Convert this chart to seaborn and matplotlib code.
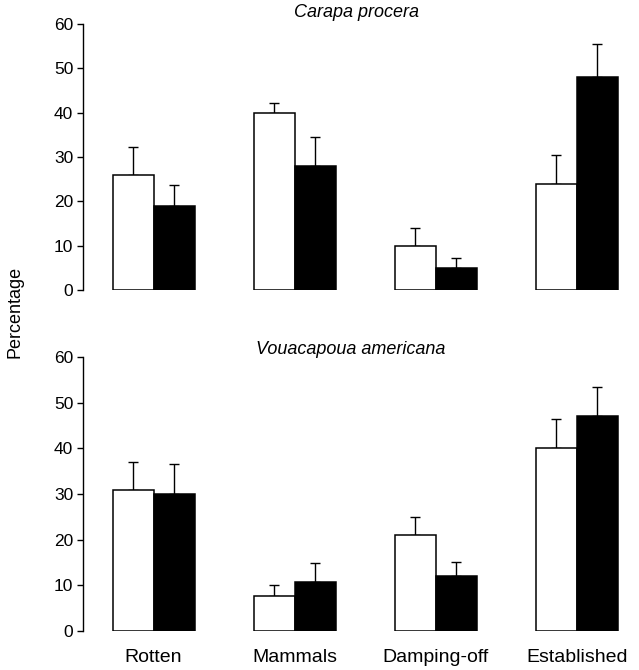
import numpy as np
import pandas as pd
from matplotlib import pyplot as plt
import seaborn as sns

sns.set_style('white')
plt.rcParams['font.family'] = ['Liberation Sans', 'DejaVu Sans']
plt.rcParams['text.color'] = 'black'
plt.rcParams['axes.labelcolor'] = 'black'

categories = ['Rotten', 'Mammals', 'Damping-off', 'Established']
groups = ['open', 'closed']

# Carapa procera
carapa_open = [26, 40, 10, 24]
carapa_open_err = [6.2, 2.1, 3.9, 6.5]
carapa_closed = [19, 28, 5, 48]
carapa_closed_err = [4.6, 6.5, 2.3, 7.5]

# Vouacapoua americana
vouac_open = [31, 7.7, 21, 40]
vouac_open_err = [6.1, 2.4, 4.0, 6.4]
vouac_closed = [30, 10.7, 12, 47]
vouac_closed_err = [6.5, 4.2, 3.1, 6.5]


def make_df(a, b):
    return pd.DataFrame({
        'cat': categories * 2,
        'grp': [groups[0]] * 4 + [groups[1]] * 4,
        'val': list(a) + list(b),
    })


fig = plt.figure(figsize=(6.39, 6.70), dpi=100)
ax1 = fig.add_axes([0.13, 0.567, 0.872, 0.397])
ax2 = fig.add_axes([0.13, 0.058, 0.872, 0.409])

panels = [
    (ax1, carapa_open, carapa_closed, carapa_open_err, carapa_closed_err,
     'Carapa procera', 0.49, 1.043),
    (ax2, vouac_open, vouac_closed, vouac_open_err, vouac_closed_err,
     'Vouacapoua americana', 0.48, 1.027),
]

for ax, a, b, ea, eb, title, tx, ty in panels:
    df = make_df(a, b)
    sns.barplot(data=df, x='cat', y='val', hue='grp', order=categories,
                hue_order=groups, palette={'open': 'white', 'closed': 'black'},
                saturation=1, width=0.58, edgecolor='black', linewidth=1.1,
                legend=False, ax=ax, zorder=2)
    # upward-only error bars with caps
    for cont, errs in zip(ax.containers, [ea, eb]):
        xs = [p.get_x() + p.get_width() / 2 for p in cont.patches]
        hs = [p.get_height() for p in cont.patches]
        ax.errorbar(xs, hs, yerr=[np.zeros(len(errs)), errs], fmt='none',
                    ecolor='black', elinewidth=1.0, capsize=3.5, capthick=1.0,
                    zorder=1)
    ax.set_ylim(0, 60)
    ax.set_xlim(-0.5, 3.45)
    ax.set_yticks(range(0, 61, 10))
    ax.set_xlabel('')
    ax.set_ylabel('')
    for s in ['top', 'right', 'bottom']:
        ax.spines[s].set_visible(False)
    ax.spines['left'].set_linewidth(1.0)
    ax.spines['left'].set_color('black')
    ax.tick_params(axis='y', direction='out', length=4, width=1.0,
                   labelsize=12.5, colors='black', left=True, pad=3)
    ax.tick_params(axis='x', length=0, labelsize=14, pad=13, colors='black')
    ax.text(tx, ty, title, transform=ax.transAxes, ha='center', va='center',
            fontsize=13, style='italic')

ax1.set_xticklabels([])
fig.text(0.024, 0.534, 'Percentage', rotation=90, ha='center', va='center',
         fontsize=13)

plt.savefig('out.png', dpi=100)
